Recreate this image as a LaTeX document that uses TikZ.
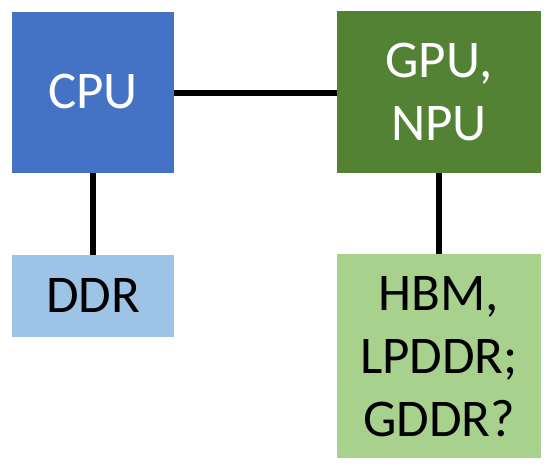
\documentclass[tikz,border=0pt]{standalone}
\usepackage{fontspec}
\setmainfont{Carlito}
\definecolor{cpublue}{HTML}{4472C4}
\definecolor{gpugreen}{HTML}{548235}
\definecolor{ddrblue}{HTML}{9DC3E6}
\definecolor{hbmgreen}{HTML}{A9D18E}
\begin{document}
\begin{tikzpicture}[x=1pt,y=-1pt,
  boxtxt/.style={font=\fontsize{53}{63}\selectfont, align=center, inner sep=0pt},
  link/.style={line width=5.5pt, black}]
\useasboundingbox (0,0) rectangle (555,472);
% boxes
\fill[cpublue] (12,12) rectangle (174,173);
\fill[gpugreen] (337,11) rectangle (541,173);
\fill[ddrblue] (12,255) rectangle (174,337);
\fill[hbmgreen] (337,254) rectangle (541,458);
% named anchors for box edges
\coordinate (cpuR) at (174,93);
\coordinate (gpuL) at (337,93);
\coordinate (cpuB) at (93,173);
\coordinate (ddrT) at (93,255);
\coordinate (gpuB) at (439,173);
\coordinate (hbmT) at (439,254);
% texts (base anchor = last line's baseline)
\node[boxtxt, text=white, anchor=base] (cpu) at (93,108) {CPU};
\node[boxtxt, text=white, anchor=base] (gpu) at (439,140) {GPU,\\NPU};
\node[boxtxt, text=black, anchor=base] (ddr) at (93,312) {DDR};
\node[boxtxt, text=black, anchor=base] (hbm) at (439,436) {HBM,\\LPDDR;\\GDDR?};
% connectors
\draw[link] (cpuR) -- (gpuL);
\draw[link] (cpuB) -- (ddrT);
\draw[link] (gpuB) -- (hbmT);
\end{tikzpicture}
\end{document}
